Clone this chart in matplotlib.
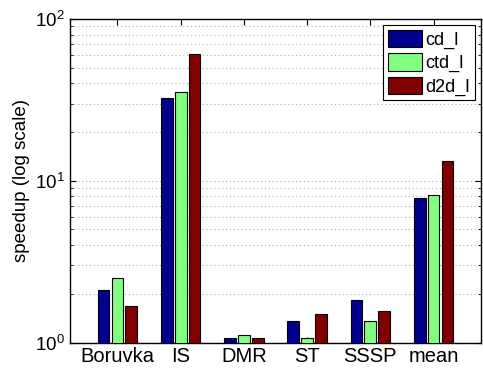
import numpy as np
import matplotlib
matplotlib.use("Agg")
import matplotlib.pyplot as plt

plt.rcParams['font.family'] = ['Liberation Sans', 'DejaVu Sans']

# data
categories = ['Boruvka', 'IS', 'DMR', 'ST', 'SSSP', 'mean']
cd_l = [2.1, 32.4, 1.07, 1.35, 1.82, 7.8]
ctd_l = [2.49, 35.2, 1.11, 1.07, 1.35, 8.2]
d2d_l = [1.68, 60.4, 1.06, 1.51, 1.56, 13.2]
series_names = ['cd_l', 'ctd_l', 'd2d_l']
colors = ['#00008f', '#80ff80', '#800000']

fig = plt.figure(figsize=(4.83, 3.70), dpi=100)
ax = fig.add_axes([70 / 483, 1 - 342.5 / 370, 411 / 483, 323.5 / 370])

x = np.arange(1, len(categories) + 1)
width = 0.185
step = 0.22
for i, (vals, name) in enumerate(zip([cd_l, ctd_l, d2d_l], series_names)):
    ax.bar(x + (i - 1) * step, vals, width, color=colors[i], edgecolor='black',
           linewidth=0.8, label=name, zorder=3)

ax.set_yscale('log')
ax.set_ylim(1, 100)
ax.set_xlim(0.25, 6.75)
ax.set_xticks(x)
ax.set_xticklabels(categories)
ax.set_ylabel('speedup (log scale)', fontsize=13.5)

ax.tick_params(axis='both', which='both', direction='in', top=True, right=True)
ax.tick_params(axis='x', labelsize=14.5)
ax.tick_params(axis='y', labelsize=13.5)
ax.tick_params(axis='both', which='major', length=4)
ax.tick_params(axis='both', which='minor', length=2)
ax.tick_params(axis='x', which='minor', bottom=False, top=False)
ax.yaxis.grid(True, which='both', linestyle=(0, (1, 2.5)), color='#aaaaaa',
              linewidth=0.8, zorder=0)

for sp in ax.spines.values():
    sp.set_linewidth(1.0)

leg = ax.legend(loc='upper right', fontsize=13, fancybox=False, framealpha=1,
                edgecolor='black', handlelength=1.9, handleheight=1.1,
                handletextpad=0.2, borderpad=0.25, labelspacing=0.25,
                borderaxespad=0.35)
leg.get_frame().set_linewidth(0.8)

fig.savefig('out.png', dpi=100)
